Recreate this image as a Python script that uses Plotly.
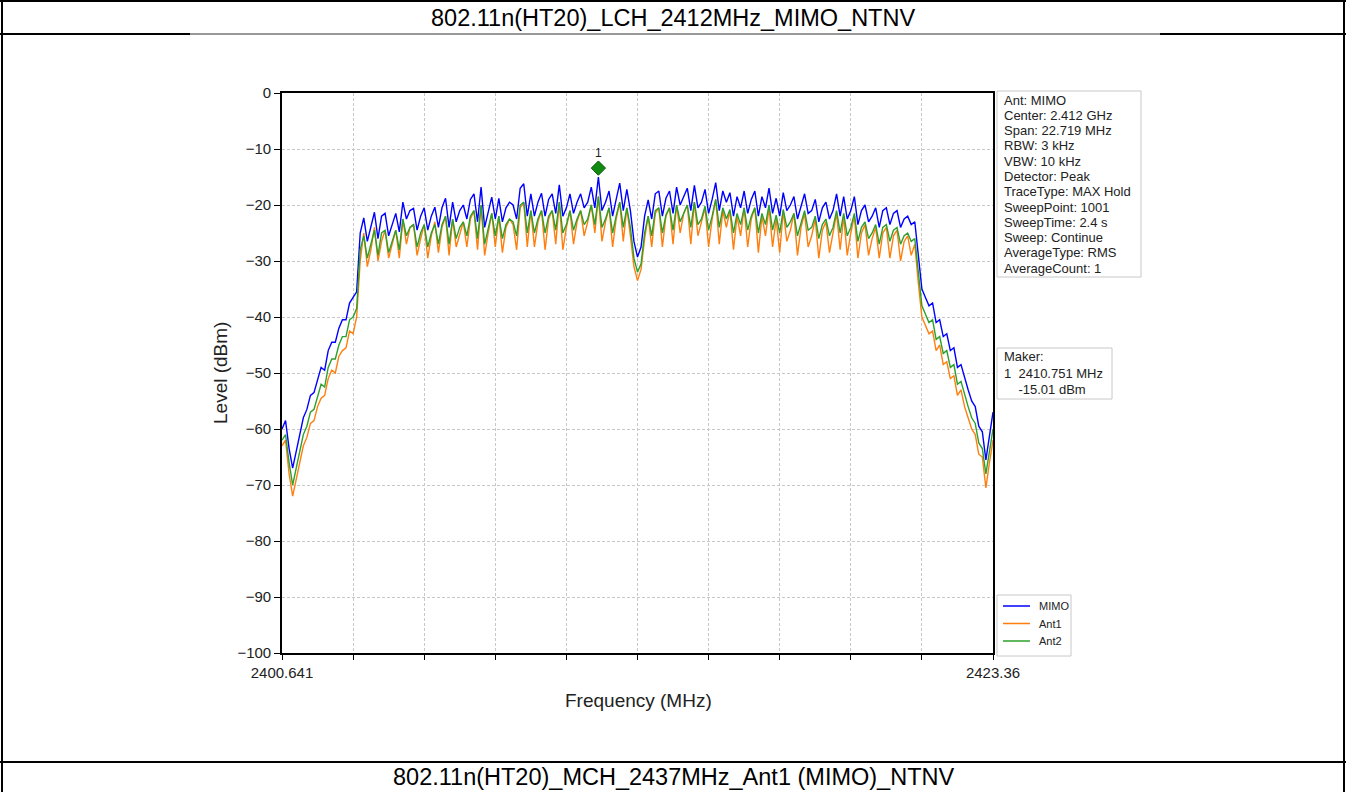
import numpy as np
import plotly.graph_objects as go

W, H = 1346, 792

# ---------------- data ----------------
f_start = 2400.641
f_stop = 2423.36
n_points = 201  # displayed sweep points (sub-sampled from 1001)

mimo = [
    -60.0, -58.5, -63.5, -67.0, -64.0, -61.0, -58.0, -56.5, -54.0, -53.5,
    -51.0, -49.0, -49.5, -46.0, -44.5, -44.5, -42.0, -40.5, -40.5, -37.5,
    -36.5, -35.5,
    -25.0, -22.3, -26.5, -24.0, -21.3, -26.0, -22.0, -21.5,
    -25.5, -23.5, -21.5, -24.8, -19.5, -22.5, -21.0, -20.6, -24.5, -22.0,
    -20.5, -24.5, -22.0, -20.4, -24.0, -20.5, -18.8, -24.0, -19.5, -23.0,
    -21.0, -20.0, -22.5, -19.0, -18.0, -23.0, -16.8, -24.0, -21.0, -18.6,
    -22.5, -18.8, -23.0, -20.5, -19.5, -20.0, -22.5, -17.0, -16.2, -22.0,
    -18.0, -22.0, -19.5, -17.9, -22.0, -19.0, -18.0, -21.5, -16.4, -22.0,
    -20.5, -18.0, -21.5, -19.5, -18.0, -20.5, -19.5, -16.8, -20.5, -15.0,
    -21.0, -19.5, -17.5, -22.0, -19.0, -16.1, -21.0, -17.2, -21.0, -26.5,
    -29.3, -27.5, -22.0, -19.1, -22.5, -18.0, -17.5, -22.0, -18.8, -17.5,
    -21.5, -16.8, -20.0, -18.5, -17.0, -21.0, -16.5, -20.5, -19.5, -17.2,
    -21.5, -19.0, -16.0, -21.0, -17.5, -19.5, -17.8, -22.0, -18.5, -20.5,
    -17.5, -21.5, -19.0, -17.5, -22.0, -18.5, -20.5, -17.0, -21.5, -18.8,
    -22.0, -17.8, -21.0, -20.0, -18.5, -22.5, -20.0, -18.0, -21.5, -21.0,
    -19.0, -23.0, -20.5, -19.5, -22.5, -21.0, -18.0, -22.0, -18.5, -22.5,
    -21.0, -18.5, -23.5, -21.0, -20.0, -23.0, -22.0, -20.5, -24.0, -21.0,
    -20.5, -23.5, -21.5, -21.0, -24.0, -22.5, -22.0, -23.5, -23.0, -29.0,
    -35.0, -36.5, -38.0, -37.5, -41.0, -40.5, -43.5, -43.0, -46.0, -45.5,
    -49.0, -48.5, -51.0, -53.0, -55.0, -56.0, -59.5, -60.5, -65.5, -61.0, -57.0,
]

ant1 = [
    -63.0, -62.0, -68.0, -72.0, -69.0, -66.0, -63.0, -61.5, -59.0, -58.5,
    -56.0, -54.5, -54.0, -51.0, -49.5, -50.0, -47.0, -46.0, -45.5, -42.5,
    -43.0, -40.0,
    -30.0, -25.0, -31.0, -28.0, -24.0, -30.0, -26.5, -24.5,
    -29.5, -27.0, -24.5, -29.5, -22.5, -27.0, -24.0, -23.5, -29.0, -26.0,
    -23.5, -29.5, -25.5, -23.0, -28.5, -24.0, -22.0, -29.0, -22.5, -27.5,
    -25.0, -23.0, -27.5, -22.5, -21.0, -28.0, -20.0, -29.0, -25.0, -21.5,
    -27.5, -22.0, -28.5, -24.0, -22.5, -23.5, -28.0, -20.5, -19.5, -27.5,
    -21.0, -27.5, -23.0, -21.0, -28.0, -22.5, -21.0, -27.0, -19.5, -28.0,
    -24.0, -21.0, -27.0, -23.0, -21.0, -25.5, -23.0, -20.0, -25.0, -18.5,
    -26.5, -23.0, -20.5, -27.5, -22.5, -19.5, -26.5, -20.5, -25.5, -31.0,
    -33.5, -31.5, -26.0, -22.0, -27.5, -21.5, -20.5, -27.5, -22.0, -20.5,
    -27.0, -20.0, -25.0, -21.5, -20.0, -27.0, -19.5, -25.5, -23.0, -20.5,
    -27.5, -22.5, -19.0, -27.0, -21.0, -24.0, -21.0, -28.0, -22.0, -25.5,
    -20.5, -27.5, -22.5, -20.5, -28.5, -22.0, -25.5, -20.5, -27.5, -22.5,
    -28.5, -21.0, -26.5, -24.5, -21.5, -29.0, -24.0, -21.5, -27.5, -25.5,
    -22.5, -29.5, -24.5, -23.0, -28.5, -25.0, -21.5, -28.0, -22.0, -29.0,
    -25.0, -22.0, -29.5, -25.0, -23.5, -29.0, -26.0, -24.0, -29.5, -25.0,
    -24.0, -29.5, -25.5, -24.5, -30.0, -26.5, -25.5, -29.0, -27.0, -34.0,
    -40.0, -41.5, -43.0, -42.5, -46.0, -45.0, -48.5, -48.0, -51.0, -50.5,
    -54.0, -53.0, -56.0, -58.0, -60.0, -61.0, -64.5, -65.0, -70.5, -66.0, -62.0,
]

ant2 = [
    -62.0, -61.0, -66.0, -70.0, -67.0, -64.0, -61.0, -59.5, -57.0, -56.5,
    -54.0, -52.0, -52.5, -49.0, -47.5, -47.5, -45.0, -43.5, -43.5, -40.5,
    -40.0, -38.5,
    -28.0, -25.5, -29.5, -27.0, -24.5, -29.0, -25.0, -24.5,
    -28.5, -26.5, -24.5, -28.0, -22.5, -25.5, -24.0, -23.5, -27.5, -25.0,
    -23.5, -27.5, -25.0, -23.5, -27.0, -23.5, -22.0, -27.0, -22.5, -26.0,
    -24.0, -23.0, -25.5, -22.0, -21.0, -26.0, -20.0, -27.0, -24.0, -21.5,
    -25.5, -22.0, -26.0, -23.5, -22.5, -23.0, -25.5, -20.0, -19.5, -25.0,
    -21.0, -25.0, -22.5, -21.0, -25.0, -22.0, -21.0, -24.5, -19.5, -25.0,
    -23.5, -21.0, -24.5, -22.5, -21.0, -23.5, -22.5, -20.0, -23.5, -18.5,
    -24.0, -22.5, -20.5, -25.0, -22.0, -19.5, -24.0, -20.5, -24.0, -29.5,
    -32.0, -30.5, -25.0, -22.0, -25.5, -21.0, -20.5, -25.0, -21.8, -20.5,
    -24.5, -20.0, -23.0, -21.5, -20.0, -24.0, -19.5, -23.5, -22.5, -20.2,
    -24.5, -22.0, -19.0, -24.0, -20.5, -22.5, -20.8, -25.0, -21.5, -23.5,
    -20.5, -24.5, -22.0, -20.5, -25.0, -21.5, -23.5, -20.0, -24.5, -21.8,
    -25.0, -20.8, -24.0, -23.0, -21.5, -25.5, -23.0, -21.0, -24.5, -24.0,
    -22.0, -26.0, -23.5, -22.5, -25.5, -24.0, -21.0, -25.0, -21.5, -25.5,
    -24.0, -21.5, -26.5, -24.0, -23.0, -26.0, -25.0, -23.5, -27.0, -24.0,
    -23.5, -26.5, -24.5, -24.0, -27.0, -25.5, -25.0, -26.5, -26.0, -32.0,
    -38.0, -39.5, -41.0, -40.5, -44.0, -43.5, -46.5, -46.0, -49.0, -48.5,
    -52.0, -51.5, -54.0, -56.0, -58.0, -59.0, -62.5, -63.5, -68.0, -64.0, -60.0,
]

series_names = ["MIMO", "Ant1", "Ant2"]
series_colors = ["#0000ff", "#ff7f0e", "#2ca02c"]

marker_freq = 2410.751
marker_level = -15.01
marker_label = "1"

y_ticks = [0, -10, -20, -30, -40, -50, -60, -70, -80, -90, -100]
x_tick_labels = ["2400.641", "", "", "", "", "", "", "", "", "", "2423.36"]

info_lines = [
    "Ant: MIMO", "Center: 2.412 GHz", "Span: 22.719 MHz", "RBW: 3 kHz",
    "VBW: 10 kHz", "Detector: Peak", "TraceType: MAX Hold", "SweepPoint: 1001",
    "SweepTime: 2.4 s", "Sweep: Continue", "AverageType: RMS", "AverageCount: 1",
]
marker_lines = ["Maker:", "1  2410.751 MHz", "    -15.01 dBm"]

page_title = "802.11n(HT20)_LCH_2412MHz_MIMO_NTNV"
next_title = "802.11n(HT20)_MCH_2437MHz_Ant1 (MIMO)_NTNV"

# ---------------- figure ----------------
freq = np.linspace(f_start, f_stop, n_points)
x_ticks = np.linspace(f_start, f_stop, len(x_tick_labels))


def px(x):
    return x / W


def py(y):
    return 1 - y / H


FONT = "Liberation Sans, Arial, sans-serif"

fig = go.Figure()
for name, vals, col in zip(series_names, [mimo, ant1, ant2], series_colors):
    fig.add_trace(go.Scatter(x=freq, y=vals, mode="lines", name=name,
                             line=dict(color=col, width=1.4), showlegend=False))

fig.add_trace(go.Scatter(
    x=[marker_freq], y=[marker_level + 1.6], mode="markers+text",
    text=[marker_label], textposition="top center",
    textfont=dict(size=12, color="#222", family=FONT),
    marker=dict(symbol="diamond", size=11, color="#118a11",
                line=dict(color="#0a5a0a", width=1)),
    showlegend=False))

fig.update_layout(
    width=W, height=H, autosize=False, showlegend=False,
    margin=dict(l=0, r=0, t=0, b=0, pad=0, autoexpand=False),
    paper_bgcolor="white", plot_bgcolor="white",
    font=dict(family=FONT, color="#222"),
    xaxis=dict(
        domain=[px(282), px(993)], range=[f_start, f_stop], automargin=False,
        tickmode="array", tickvals=x_ticks, ticktext=x_tick_labels,
        ticks="outside", ticklen=5, tickcolor="black", tickwidth=1.2,
        showline=True, linecolor="black", linewidth=1.6, mirror=True,
        showgrid=True, gridcolor="#c8c8c8", griddash="3px,2px", gridwidth=1,
        zeroline=False, tickfont=dict(size=15, color="#222"),
    ),
    yaxis=dict(
        domain=[py(653), py(93)], range=[-100, 0], automargin=False,
        tickmode="array", tickvals=y_ticks,
        ticks="outside", ticklen=6, tickcolor="black", tickwidth=1.2,
        showline=True, linecolor="black", linewidth=1.6, mirror=True,
        showgrid=True, gridcolor="#c8c8c8", griddash="3px,2px", gridwidth=1,
        zeroline=False, tickfont=dict(size=15, color="#222"),
    ),
)

shapes = []
ann = []

# page/table borders
shapes.append(dict(type="line", xref="paper", yref="paper", x0=0, x1=1, y0=py(1), y1=py(1),
                   line=dict(color="black", width=2)))
shapes.append(dict(type="line", xref="paper", yref="paper", x0=px(2), x1=px(2), y0=0, y1=1,
                   line=dict(color="black", width=2)))
shapes.append(dict(type="line", xref="paper", yref="paper", x0=px(1344), x1=px(1344), y0=0, y1=1,
                   line=dict(color="black", width=2)))
shapes.append(dict(type="line", xref="paper", yref="paper", x0=0, x1=1, y0=py(34), y1=py(34),
                   line=dict(color="#333", width=1)))
for a, b in [(0, 190), (1160, W)]:
    shapes.append(dict(type="line", xref="paper", yref="paper", x0=px(a), x1=px(b),
                       y0=py(34), y1=py(34), line=dict(color="black", width=2)))
shapes.append(dict(type="line", xref="paper", yref="paper", x0=0, x1=1, y0=py(762), y1=py(762),
                   line=dict(color="black", width=2)))

ann.append(dict(text=page_title, x=px(673), y=py(18), xref="paper", yref="paper",
                showarrow=False, xanchor="center", yanchor="middle",
                font=dict(size=23.5, color="black", family=FONT)))
ann.append(dict(text=next_title, x=px(673), y=py(777), xref="paper", yref="paper",
                showarrow=False, xanchor="center", yanchor="middle",
                font=dict(size=23.5, color="black", family=FONT)))

# axis titles
ann.append(dict(text="Level (dBm)", x=px(220), y=py(373), xref="paper", yref="paper",
                showarrow=False, textangle=-90, xanchor="center", yanchor="middle",
                font=dict(size=19, color="#222", family=FONT)))
ann.append(dict(text="Frequency (MHz)", x=px(638), y=py(700), xref="paper", yref="paper",
                showarrow=False, xanchor="center", yanchor="middle",
                font=dict(size=19, color="#222", family=FONT)))

# info box
shapes.append(dict(type="rect", xref="paper", yref="paper", x0=px(997), x1=px(1141),
                   y0=py(277), y1=py(91), line=dict(color="#c8c8c8", width=1),
                   fillcolor="white"))
for k, t in enumerate(info_lines):
    ann.append(dict(text=t, x=px(1002), y=py(100 + 15.3 * k), xref="paper", yref="paper",
                    showarrow=False, xanchor="left", yanchor="middle",
                    font=dict(size=13, color="#222", family=FONT)))

# marker box
shapes.append(dict(type="rect", xref="paper", yref="paper", x0=px(997), x1=px(1112),
                   y0=py(399), y1=py(348), line=dict(color="#c8c8c8", width=1),
                   fillcolor="white"))
for k, t in enumerate(marker_lines):
    ann.append(dict(text=t.replace(" ", "&nbsp;"), x=px(1002), y=py(357 + 16.3 * k),
                    xref="paper", yref="paper", showarrow=False, xanchor="left",
                    yanchor="middle", font=dict(size=13, color="#222", family=FONT)))

# legend box
shapes.append(dict(type="rect", xref="paper", yref="paper", x0=px(997), x1=px(1071),
                   y0=py(656), y1=py(595), line=dict(color="#c8c8c8", width=1),
                   fillcolor="white"))
for k, (name, col) in enumerate(zip(series_names, series_colors)):
    yy = 606 + 17.5 * k
    shapes.append(dict(type="line", xref="paper", yref="paper", x0=px(1003), x1=px(1030),
                       y0=py(yy), y1=py(yy), line=dict(color=col, width=1.5)))
    ann.append(dict(text=name, x=px(1037), y=py(yy), xref="paper", yref="paper",
                    showarrow=False, xanchor="left", yanchor="middle",
                    font=dict(size=11, color="#222", family=FONT)))

fig.update_layout(shapes=shapes, annotations=ann)
fig.write_html(
    "out.html",
    config={"displayModeBar": False},
    post_script="document.body.style.margin='0px';document.body.style.padding='0px';"
                "document.body.style.overflow='hidden';",
)
